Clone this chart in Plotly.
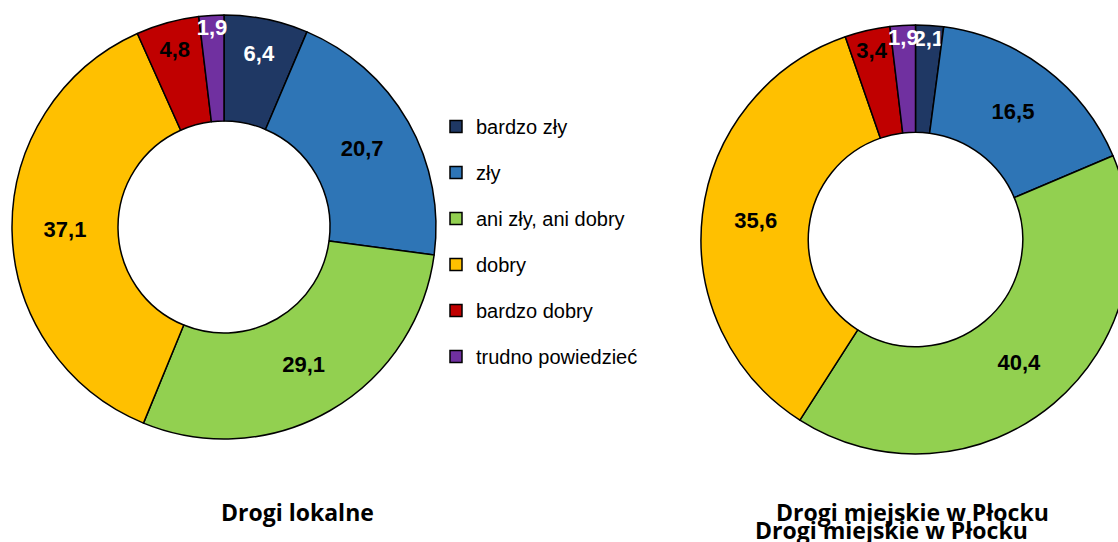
import plotly.graph_objects as go

categories = ["bardzo zły", "zły", "ani zły, ani dobry", "dobry", "bardzo dobry", "trudno powiedzieć"]
local_values = [6.4, 20.7, 29.1, 37.1, 4.8, 1.9]
city_values = [2.1, 16.5, 40.4, 35.6, 3.4, 1.9]
colors = ["#1F3864", "#2E75B6", "#92D050", "#FFC000", "#C00000", "#7030A0"]
local_text_colors = ["white", "black", "black", "black", "black", "white"]
city_text_colors = ["white", "black", "black", "black", "black", "white"]
titles = ["Drogi lokalne", "Drogi miejskie w Płocku", "Drogi miejskie w Płocku"]

W, H = 1140, 542
NARROW = "Liberation Sans Narrow, Arial Narrow, Liberation Sans, Arial, sans-serif"
TITLE_FONT = "Open Sans, Lato, sans-serif"

def px_x(v):
    return v / W

def px_y(v):
    return (H - v) / H

fig = go.Figure()

def add_pie(values, tcolors, x0, x1, y_top, y_bot):
    fig.add_trace(go.Pie(
        labels=categories,
        values=values,
        sort=False,
        direction="clockwise",
        rotation=0,
        hole=0.5,
        marker=dict(colors=colors, line=dict(color="black", width=1.5)),
        texttemplate="%{value:.1f}",
        textposition="inside",
        insidetextorientation="horizontal",
        textfont=dict(family=NARROW, size=22, color=tcolors, weight="bold"),
        domain=dict(x=[px_x(x0), px_x(x1)], y=[px_y(y_bot), px_y(y_top)]),
        showlegend=False,
        hoverinfo="label+value",
    ))

add_pie(local_values, local_text_colors, 12, 436, 15, 439)
add_pie(city_values, city_text_colors, 701, 1130, 25, 454)

# legend entries (one group per category for spacing)
for i, (cat, col) in enumerate(zip(categories, colors)):
    fig.add_trace(go.Bar(
        x=[None], y=[None], name=cat,
        marker=dict(color=col, line=dict(color="black", width=1.5)),
        legendgroup=f"g{i}", showlegend=True,
    ))

fig.update_layout(
    width=W, height=H,
    margin=dict(l=0, r=0, t=0, b=0),
    paper_bgcolor="white", plot_bgcolor="white",
    separators=", ",
    uniformtext=dict(minsize=22, mode="show"),
    xaxis=dict(visible=False),
    yaxis=dict(visible=False),
    legend=dict(
        x=px_x(436), xanchor="left",
        y=px_y(107), yanchor="top",
        font=dict(family=NARROW, size=20, color="black"),
        traceorder="grouped",
        tracegroupgap=17,
        bgcolor="rgba(0,0,0,0)",
    ),
    annotations=[
        dict(text=f"<b>{titles[0]}</b>", x=px_x(297), y=px_y(511.5), xref="paper", yref="paper",
             xanchor="center", yanchor="middle", showarrow=False,
             font=dict(family=TITLE_FONT, size=23, color="black")),
        dict(text=f"<b>{titles[1]}</b>", x=px_x(912), y=px_y(511.5), xref="paper", yref="paper",
             xanchor="center", yanchor="middle", showarrow=False,
             font=dict(family=TITLE_FONT, size=23, color="black")),
        dict(text=f"<b>{titles[2]}</b>", x=px_x(891), y=px_y(529.5), xref="paper", yref="paper",
             xanchor="center", yanchor="middle", showarrow=False,
             font=dict(family=TITLE_FONT, size=23, color="black")),
    ],
)

fig.write_html(
    "out.html",
    config={"displayModeBar": False},
    post_script="document.body.style.margin='0';document.body.style.overflow='hidden';document.documentElement.style.overflow='hidden';",
)
